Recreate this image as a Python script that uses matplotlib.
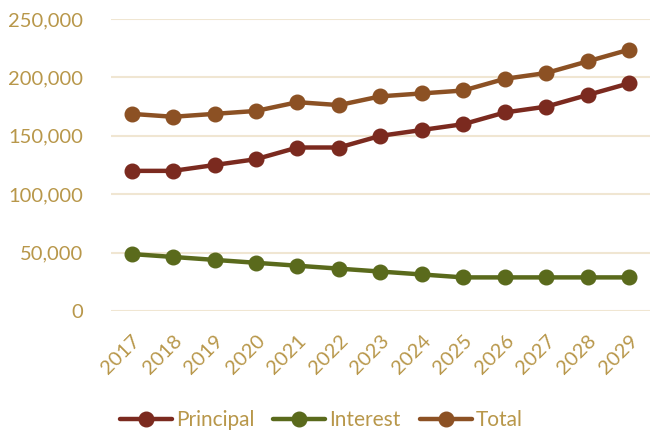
import matplotlib
matplotlib.use("Agg")
import matplotlib.pyplot as plt
from matplotlib.ticker import FuncFormatter

years = ["2017", "2018", "2019", "2020", "2021", "2022", "2023",
         "2024", "2025", "2026", "2027", "2028", "2029"]
principal = [120000, 120000, 125000, 130000, 140000, 140000, 150000,
             155000, 160000, 170000, 175000, 185000, 195000]
interest = [48800, 46300, 43800, 41300, 38800, 36300, 33800,
            31300, 28800, 28800, 28800, 28800, 28800]
total = [168800, 166300, 168800, 171300, 178800, 176300, 183800,
         186300, 188800, 198800, 203800, 213800, 223800]

text_color = "#B8974A"
grid_color = "#F0E6D2"
series = [
    ("Principal", principal, "#7B2A1F"),
    ("Interest", interest, "#5A6A1C"),
    ("Total", total, "#8C5124"),
]

plt.rcParams["font.family"] = ["Lato", "DejaVu Sans"]

fig = plt.figure(figsize=(6.52, 4.32), dpi=100)
ax = fig.add_axes([0.170, 0.280, 0.827, 0.676])

x = list(range(len(years)))
for name, vals, color in series:
    ax.plot(x, vals, color=color, lw=3.2, marker="o", markersize=10.5,
            label=name, clip_on=False, solid_capstyle="round", zorder=3)

ax.set_xlim(-0.5, len(years) - 0.5)
ax.set_ylim(0, 250000)
ax.set_yticks(range(0, 250001, 50000))
ax.yaxis.set_major_formatter(FuncFormatter(lambda v, p: f"{int(v):,}"))
ax.grid(axis="y", color=grid_color, lw=1.5, zorder=0)
ax.set_axisbelow(True)
for s in ax.spines.values():
    s.set_visible(False)

ax.set_xticks(x)
ax.set_xticklabels(years, rotation=45, ha="right", rotation_mode="anchor")
ax.tick_params(axis="x", length=0, pad=15, labelsize=14.5, labelcolor=text_color)
ax.tick_params(axis="y", length=0, pad=20, labelsize=14.5, labelcolor=text_color)

leg = fig.legend(loc="center", bbox_to_anchor=(0.493, 0.028), ncol=3,
                 frameon=False, fontsize=15, handlelength=2.5,
                 handletextpad=0.2, columnspacing=0.9)
for t in leg.get_texts():
    t.set_color(text_color)

fig.savefig("out.png", dpi=100)
